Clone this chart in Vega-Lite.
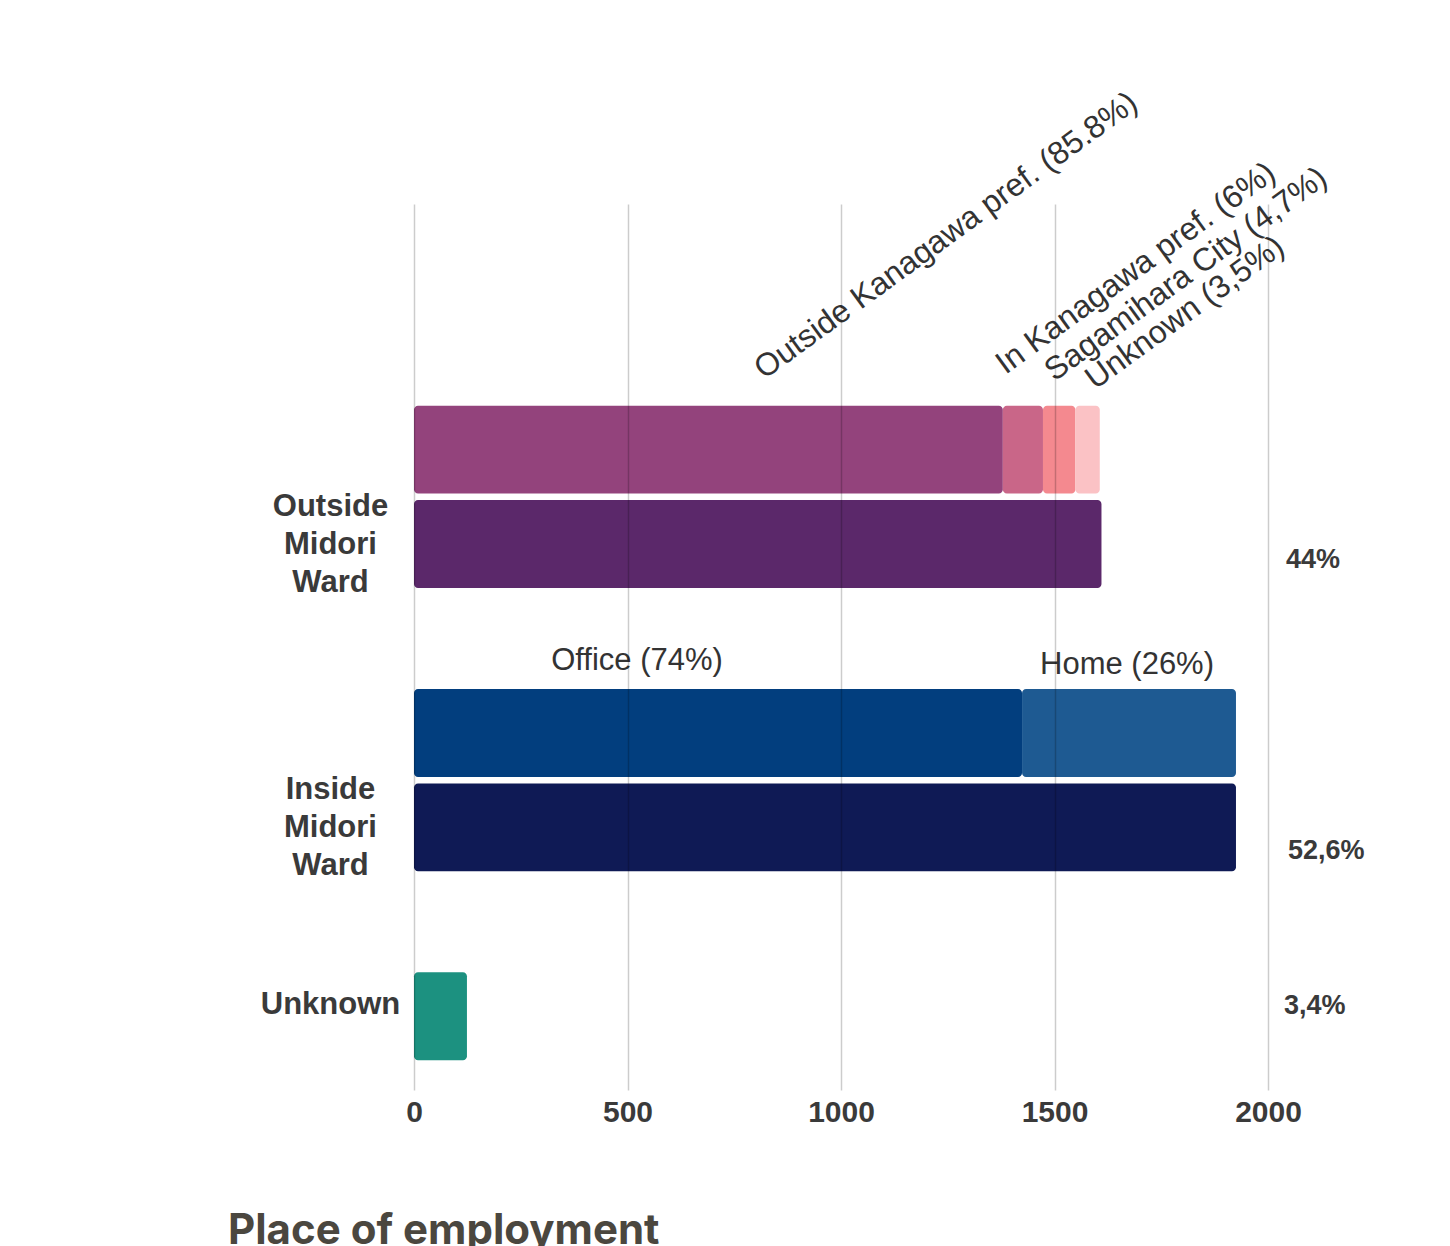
{
  "$schema": "https://vega.github.io/schema/vega-lite/v6.json",
  "width": 854,
  "height": 886,
  "autosize": {"type": "none"},
  "padding": {"left": 414, "top": 204, "right": 182, "bottom": 156},
  "background": "white",
  "config": {"view": {"stroke": null}, "font": "Liberation Sans"},
  "title": {
    "text": "Place of employment",
    "orient": "bottom",
    "anchor": "start",
    "frame": "group",
    "dx": -186,
    "offset": 84,
    "font": "Inter",
    "fontSize": 42,
    "fontWeight": "bold",
    "color": "#4b473f"
  },
  "data": {
    "values": [
      {"row": "Outside breakdown", "segment": "Outside Kanagawa pref.", "value": 1379, "label": "Outside Kanagawa pref. (85.8%)"},
      {"row": "Outside breakdown", "segment": "In Kanagawa pref.", "value": 94, "label": "In Kanagawa pref. (6%)"},
      {"row": "Outside breakdown", "segment": "Sagamihara City", "value": 76, "label": "Sagamihara City (4,7%)"},
      {"row": "Outside breakdown", "segment": "Unknown destination", "value": 57, "label": "Unknown (3,5%)"},
      {"row": "Outside Midori Ward", "segment": "Outside Midori Ward", "value": 1610, "share": "44%"},
      {"row": "Inside breakdown", "segment": "Office", "value": 1424, "label": "Office (74%)"},
      {"row": "Inside breakdown", "segment": "Home", "value": 501, "label": "Home (26%)"},
      {"row": "Inside Midori Ward", "segment": "Inside Midori Ward", "value": 1925, "share": "52,6%"},
      {"row": "Unknown", "segment": "Unknown", "value": 124, "share": "3,4%"}
    ]
  },
  "transform": [
    {"stack": "value", "groupby": ["row"], "as": ["x0", "x1"]},
    {"calculate": "(datum.x0 + datum.x1) / 2", "as": "mid"}
  ],
  "encoding": {
    "y": {
      "field": "row",
      "type": "nominal",
      "scale": {
        "domain": ["_top1", "_top2", "Outside breakdown", "Outside Midori Ward", "_gap1", "Inside breakdown", "Inside Midori Ward", "_gap2", "Unknown"],
        "paddingInner": 0.069,
        "paddingOuter": 0.225,
        "align": 0.3
      },
      "axis": {
        "title": null,
        "domain": false,
        "ticks": false,
        "grid": false,
        "labelExpr": "indexof(datum.value, '_') == 0 || indexof(datum.value, 'breakdown') >= 0 ? '' : split(datum.value, ' ')",
        "labelAlign": "center",
        "labelBaseline": "middle",
        "labelOffset": {"condition": {"test": "datum.value == 'Unknown'", "value": -11}, "value": -37},
        "labelPadding": 84,
        "labelFont": "Liberation Sans",
        "labelFontSize": 31,
        "labelFontWeight": "bold",
        "labelColor": "#3a3a3a",
        "labelLineHeight": 38,
        "labelLimit": 400
      }
    }
  },
  "layer": [
    {
      "mark": {"type": "bar", "cornerRadius": 4},
      "encoding": {
        "x": {
          "field": "x0",
          "type": "quantitative",
          "scale": {"domain": [0, 2000], "nice": false},
          "axis": {
            "title": null,
            "values": [0, 500, 1000, 1500, 2000],
            "format": "d",
            "domain": false,
            "ticks": false,
            "grid": true,
            "gridColor": "#000000",
            "gridOpacity": 0.2,
            "gridWidth": 1.5,
            "zindex": 1,
            "labelFlush": false,
            "labelFont": "Liberation Sans",
            "labelFontSize": 30,
            "labelFontWeight": "bold",
            "labelColor": "#3a3a3a",
            "labelPadding": 7
          }
        },
        "x2": {"field": "x1"},
        "color": {
          "field": "segment",
          "type": "nominal",
          "scale": {
            "domain": ["Outside Kanagawa pref.", "In Kanagawa pref.", "Sagamihara City", "Unknown destination", "Outside Midori Ward", "Office", "Home", "Inside Midori Ward", "Unknown"],
            "range": ["#93437c", "#c96688", "#f4898f", "#fbc2c5", "#5b286a", "#023e7e", "#1e5a92", "#0f1a55", "#1c9180"]
          },
          "legend": null
        }
      }
    },
    {
      "transform": [{"filter": "datum.segment == 'Outside Kanagawa pref.'"}],
      "mark": {"type": "text", "angle": 324, "align": "left", "baseline": "alphabetic", "dx": 60, "dy": 12, "fontSize": 32, "color": "#333333"},
      "encoding": {
        "x": {"field": "mid", "type": "quantitative"},
        "y": {"field": "row", "type": "nominal", "bandPosition": 0},
        "text": {"field": "label"}
      }
    },
    {
      "transform": [{"filter": "datum.segment == 'In Kanagawa pref.'"}],
      "mark": {"type": "text", "angle": 324, "align": "left", "baseline": "alphabetic", "dx": 4, "dy": -35, "fontSize": 32, "color": "#333333"},
      "encoding": {
        "x": {"field": "mid", "type": "quantitative"},
        "y": {"field": "row", "type": "nominal", "bandPosition": 0},
        "text": {"field": "label"}
      }
    },
    {
      "transform": [{"filter": "datum.segment == 'Sagamihara City'"}],
      "mark": {"type": "text", "angle": 324, "align": "left", "baseline": "alphabetic", "dx": 10, "dy": -22, "fontSize": 32, "color": "#333333"},
      "encoding": {
        "x": {"field": "mid", "type": "quantitative"},
        "y": {"field": "row", "type": "nominal", "bandPosition": 0},
        "text": {"field": "label"}
      }
    },
    {
      "transform": [{"filter": "datum.segment == 'Unknown destination'"}],
      "mark": {"type": "text", "angle": 324, "align": "left", "baseline": "alphabetic", "dx": 15, "dy": -8, "fontSize": 32, "color": "#333333"},
      "encoding": {
        "x": {"field": "mid", "type": "quantitative"},
        "y": {"field": "row", "type": "nominal", "bandPosition": 0},
        "text": {"field": "label"}
      }
    },
    {
      "transform": [{"filter": "datum.segment == 'Office'"}],
      "mark": {"type": "text", "align": "center", "baseline": "alphabetic", "dx": -81, "dy": -19, "fontSize": 31, "color": "#333333"},
      "encoding": {
        "x": {"field": "mid", "type": "quantitative"},
        "y": {"field": "row", "type": "nominal", "bandPosition": 0},
        "text": {"field": "label"}
      }
    },
    {
      "transform": [{"filter": "datum.segment == 'Home'"}],
      "mark": {"type": "text", "align": "center", "baseline": "alphabetic", "dx": -2, "dy": -15, "fontSize": 31, "color": "#333333"},
      "encoding": {
        "x": {"field": "mid", "type": "quantitative"},
        "y": {"field": "row", "type": "nominal", "bandPosition": 0},
        "text": {"field": "label"}
      }
    },
    {
      "transform": [{"filter": "datum.row == 'Outside Midori Ward'"}],
      "mark": {"type": "text", "align": "left", "baseline": "middle", "dx": 18, "dy": 16, "fontSize": 27, "fontWeight": "bold", "color": "#3a3a3a"},
      "encoding": {
        "x": {"datum": 2000, "type": "quantitative"},
        "text": {"field": "share"}
      }
    },
    {
      "transform": [{"filter": "datum.row == 'Inside Midori Ward'"}],
      "mark": {"type": "text", "align": "left", "baseline": "middle", "dx": 20, "dy": 24, "fontSize": 27, "fontWeight": "bold", "color": "#3a3a3a"},
      "encoding": {
        "x": {"datum": 2000, "type": "quantitative"},
        "text": {"field": "share"}
      }
    },
    {
      "transform": [{"filter": "datum.row == 'Unknown'"}],
      "mark": {"type": "text", "align": "left", "baseline": "middle", "dx": 16, "dy": -10, "fontSize": 27, "fontWeight": "bold", "color": "#3a3a3a"},
      "encoding": {
        "x": {"datum": 2000, "type": "quantitative"},
        "text": {"field": "share"}
      }
    }
  ]
}
